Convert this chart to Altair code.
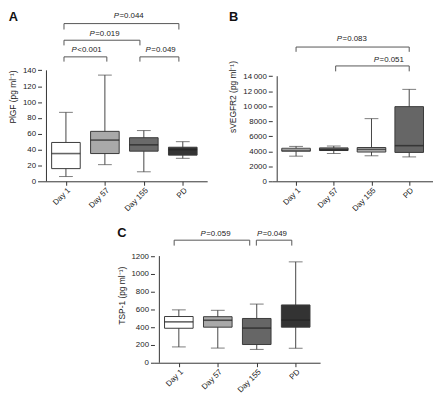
import altair as alt
import pandas as pd

cats = ["Day 1", "Day 57", "Day 155", "PD"]

# ---- Panel A: PlGF ----
a_min = [6, 21, 12, 29]
a_q1 = [16, 35, 38, 33]
a_med = [35, 52, 46, 40]
a_q3 = [49, 63, 55, 43]
a_max = [87, 134, 64, 50]
a_fill = ["#ffffff", "#a9a9a9", "#6a6a6a", "#343434"]
a_ticks = [0, 20, 40, 60, 80, 100, 120, 140]
a_br_start = [-0.05, -0.05, -0.05, 1.9]
a_br_end = [2.9, 1.9, 1.05, 2.9]
a_br_level = [199, 178, 157, 157]
a_br_drop = [191.5, 171.5, 151, 151]
a_lab = ["=0.044", "=0.019", "<0.001", "=0.049"]
a_lab_x = [1.36, 0.74, 0.28, 2.18]
a_lab_y = [209, 186, 165.5, 165.5]

# ---- Panel B: sVEGFR2 ----
b_min = [3350, 3700, 3400, 3250]
b_q1 = [4000, 4100, 3900, 3850]
b_med = [4150, 4200, 4250, 4750]
b_q3 = [4400, 4450, 4500, 9950]
b_max = [4650, 4700, 8350, 12250]
b_fill = ["#ffffff", "#626262", "#bdbdbd", "#666666"]
b_ticks = [0, 2000, 4000, 6000, 8000, 10000, 12000, 14000]
b_br_start = [0, 1.05]
b_br_end = [3, 3]
b_br_level = [17890, 15370]
b_br_drop = [17250, 14650]
b_lab = ["=0.083", "=0.051"]
b_lab_x = [1.22, 2.2]
b_lab_y = [19000, 16180]

# ---- Panel C: TSP-1 ----
c_min = [178, 165, 150, 163]
c_q1 = [388, 400, 205, 400]
c_med = [460, 478, 390, 480]
c_q3 = [520, 518, 498, 650]
c_max = [595, 590, 660, 1135]
c_fill = ["#ffffff", "#a9a9a9", "#666666", "#333333"]
c_ticks = [0, 200, 400, 600, 800, 1000, 1200]
c_br_start = [-0.12, 1.99]
c_br_end = [1.82, 2.9]
c_br_level = [1379, 1379]
c_br_drop = [1318, 1318]
c_lab = ["=0.059", "=0.049"]
c_lab_x = [0.69, 2.14]
c_lab_y = [1452, 1452]

FONT = "Liberation Sans"
label_js = "[" + ",".join("'" + c + "'" for c in cats) + "][datum.value]"


def panel(letter, ytitle, mins, q1, med, q3, mx, fills, yticks, ytop,
          br_s, br_e, br_l, br_d, labs, lab_x, lab_y, width, height,
          ylabel_expr=None):
    idx = list(range(len(cats)))
    box = pd.DataFrame({"idx": idx, "cat": cats, "lo": mins, "q1": q1,
                        "med": med, "q3": q3, "hi": mx, "fill": fills})
    br = pd.DataFrame({"s": br_s, "e": br_e, "level": br_l, "drop": br_d,
                       "lab": labs, "lx": lab_x, "ly": lab_y})
    axis_line = pd.DataFrame({"x": [-0.5], "y0": [0], "y1": [max(yticks)]})

    xs = alt.Scale(domain=[-0.5, len(cats) - 0.5], nice=False, zero=False)
    ys = alt.Scale(domain=[0, ytop], nice=False, zero=False)

    yaxis_kw = dict(values=yticks, domain=False, grid=False, title=ytitle,
                    tickSize=4, tickColor="#333", labelFontSize=8,
                    labelFont=FONT, labelColor="#222", titleFont=FONT,
                    titleFontSize=8.5, titleFontWeight="normal",
                    titleColor="#222", labelPadding=2, titlePadding=5)
    if ylabel_expr:
        yaxis_kw["labelExpr"] = ylabel_expr
    else:
        yaxis_kw["format"] = "d"
    yaxis = alt.Axis(**yaxis_kw)
    xaxis = alt.Axis(values=idx, labelExpr=label_js, labelAngle=-45,
                     labelAlign="right", labelBaseline="top", title=None,
                     grid=False, tickSize=4, tickColor="#333",
                     domainColor="#333", labelFontSize=8, labelFont=FONT,
                     labelColor="#222", labelPadding=1)

    def X(f):
        return alt.X(f, scale=xs, axis=xaxis)

    def Y(f):
        return alt.Y(f, scale=ys, axis=yaxis)

    base = alt.Chart(box)
    whisk = base.mark_rule(color="#444", strokeWidth=1).encode(
        x=X("idx:Q"), y=Y("lo:Q"), y2="hi:Q")
    cap_lo = base.mark_tick(orient="horizontal", size=14, thickness=1,
                            color="#444").encode(x=X("idx:Q"), y=Y("lo:Q"))
    cap_hi = base.mark_tick(orient="horizontal", size=14, thickness=1,
                            color="#444").encode(x=X("idx:Q"), y=Y("hi:Q"))
    boxes = base.mark_bar(size=29, stroke="#3a3a3a", strokeWidth=1).encode(
        x=X("idx:Q"), y=Y("q1:Q"), y2="q3:Q",
        fill=alt.Fill("fill:N", scale=None))
    medians = base.mark_tick(orient="horizontal", size=29, thickness=1.6,
                             color="#222").encode(x=X("idx:Q"), y=Y("med:Q"))

    yline = alt.Chart(axis_line).mark_rule(color="#333", strokeWidth=1).encode(
        x=X("x:Q"), y=Y("y0:Q"), y2="y1:Q")

    bb = alt.Chart(br)
    br_h = bb.mark_rule(color="#555", strokeWidth=1).encode(
        x=X("s:Q"), x2="e:Q", y=Y("level:Q"))
    br_v = bb.transform_fold(["s", "e"], as_=["end", "pos"]).mark_rule(
        color="#555", strokeWidth=1).encode(
        x=X("pos:Q"), y=Y("level:Q"), y2="drop:Q")
    txt_p = bb.mark_text(align="right", baseline="middle", fontStyle="italic",
                         font=FONT, fontSize=8, color="#222").encode(
        x=X("lx:Q"), y=Y("ly:Q"), text=alt.value("P"))
    txt_v = bb.mark_text(align="left", baseline="middle", font=FONT,
                         fontSize=8, color="#222", dx=0.5).encode(
        x=X("lx:Q"), y=Y("ly:Q"), text="lab:N")

    return alt.layer(whisk, cap_lo, cap_hi, boxes, medians, yline,
                     br_h, br_v, txt_p, txt_v).properties(
        width=width, height=height,
        title=alt.TitleParams(letter, anchor="start", fontSize=13,
                              fontWeight="bold", font=FONT, color="#111",
                              offset=-12, frame="bounds"))


b_expr = ("datum.value >= 10000 ? floor(datum.value/1000) + '\u2009' + "
          "'000' : format(datum.value, 'd')")

pA = panel("A", "PlGF (pg ml\u207b\u00b9)", a_min, a_q1, a_med, a_q3, a_max,
           a_fill, a_ticks, 214, a_br_start, a_br_end, a_br_level, a_br_drop,
           a_lab, a_lab_x, a_lab_y, 168, 172)
pB = panel("B", "sVEGFR2 (pg ml\u207b\u00b9)", b_min, b_q1, b_med, b_q3,
           b_max, b_fill, b_ticks, 22600, b_br_start, b_br_end, b_br_level,
           b_br_drop, b_lab, b_lab_x, b_lab_y, 163, 172, ylabel_expr=b_expr)
pC = panel("C", "TSP-1 (pg ml\u207b\u00b9)", c_min, c_q1, c_med, c_q3, c_max,
           c_fill, c_ticks, 1520, c_br_start, c_br_end, c_br_level, c_br_drop,
           c_lab, c_lab_x, c_lab_y, 168, 137)

chart = alt.vconcat(
    alt.hconcat(pA, pB, spacing=22),
    pC,
    spacing=14,
    center=True,
).properties(padding=0).configure(background="white").configure_view(stroke=None)

chart.save("out.html", embed_options={"renderer": "svg", "actions": False})
